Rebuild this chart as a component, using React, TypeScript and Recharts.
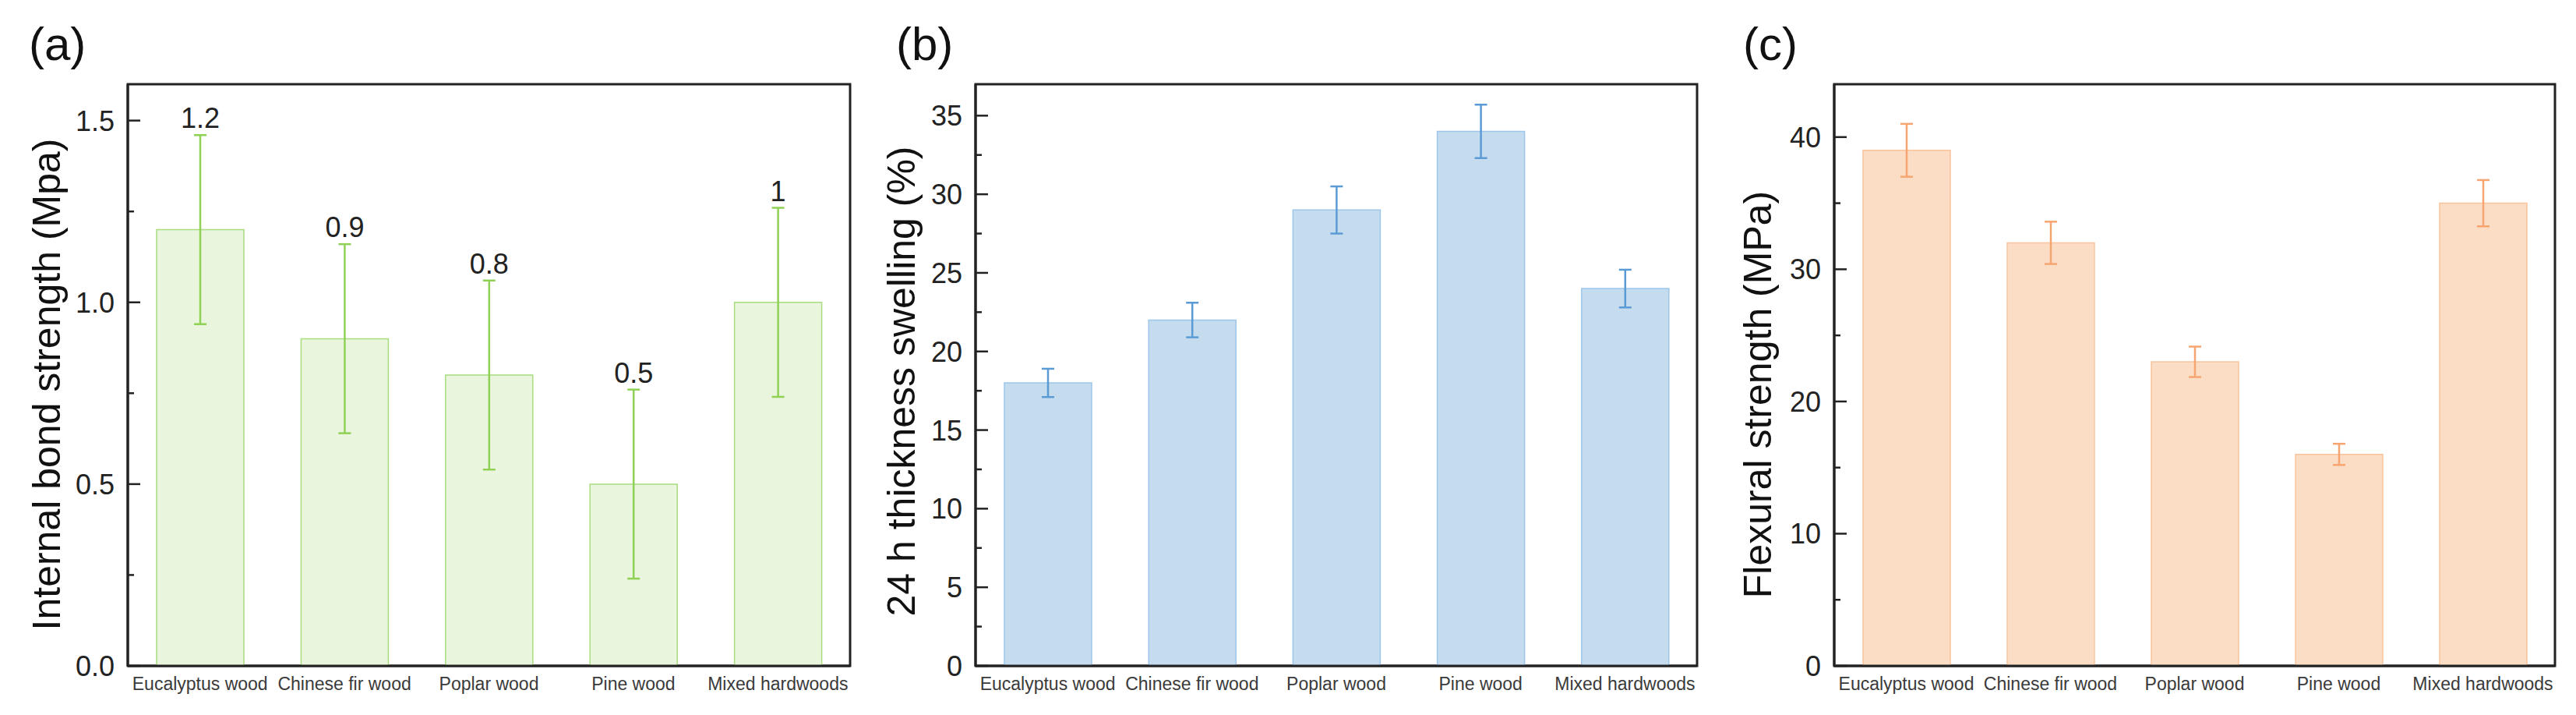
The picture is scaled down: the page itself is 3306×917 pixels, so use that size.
import React from 'react';
import { BarChart, Bar, XAxis, YAxis, ErrorBar, LabelList, ReferenceArea } from 'recharts';

const categories = ['Eucalyptus wood', 'Chinese fir wood', 'Poplar wood', 'Pine wood', 'Mixed hardwoods'];

// (a) internal bond strength
const bondValues = [1.2, 0.9, 0.8, 0.5, 1.0];
const bondErrors = [0.26, 0.26, 0.26, 0.26, 0.26];
const bondTicks = [0, 0.25, 0.5, 0.75, 1.0, 1.25, 1.5];
const bondMajor = [0, 0.5, 1.0, 1.5];

// (b) 24 h thickness swelling
const swellValues = [18, 22, 29, 34, 24];
const swellErrors = [0.9, 1.1, 1.5, 1.7, 1.2];
const swellTicks = [0, 2.5, 5, 7.5, 10, 12.5, 15, 17.5, 20, 22.5, 25, 27.5, 30, 32.5, 35];
const swellMajor = [0, 5, 10, 15, 20, 25, 30, 35];

// (c) flexural strength
const flexValues = [39, 32, 23, 16, 35];
const flexErrors = [2.0, 1.6, 1.15, 0.8, 1.75];
const flexTicks = [0, 5, 10, 15, 20, 25, 30, 35, 40];
const flexMajor = [0, 10, 20, 30, 40];

const FONT = "Arial, 'Liberation Sans', sans-serif";
const INK = '#222';

const makeRows = (values: number[], errors: number[]) =>
  categories.map((name, i) => ({ name, value: values[i], err: errors[i] }));

type PanelProps = {
  left: number;
  width: number;
  marginLeft: number;
  marginRight: number;
  values: number[];
  errors: number[];
  domain: [number, number];
  ticks: number[];
  major: number[];
  fmt: (v: number) => string;
  fill: string;
  stroke: string;
  errColor: string;
  showValues?: boolean;
};

function Panel(p: PanelProps) {
  const data = makeRows(p.values, p.errors);

  // inward ticks, labels only on the major ones
  const YTick = (props: any) => {
    const { y, payload } = props;
    const ax = typeof props.x2 === 'number' ? props.x2 : props.x;
    const isMajor = p.major.includes(payload.value);
    return (
      <g>
        <line x1={ax} x2={ax + (isMajor ? 16 : 8)} y1={y} y2={y} stroke={INK} strokeWidth={2.5} />
        {isMajor && (
          <text x={ax - 17} y={y} dy="0.36em" textAnchor="end" fontSize={36} fill={INK} fontFamily={FONT}>
            {p.fmt(payload.value)}
          </text>
        )}
      </g>
    );
  };

  const XTick = (props: any) => {
    const { x, y, payload } = props;
    return (
      <text x={x} y={y + 31} textAnchor="middle" fontSize={23} fill="#3a3a3a" fontFamily={FONT}>
        {payload.value}
      </text>
    );
  };

  // value label sits just above the top of the error bar
  const renderValue = (props: any) => {
    const { x, y, width, height, value, index } = props;
    const perUnit = height / value;
    const top = y - data[index].err * perUnit;
    return (
      <text x={x + width / 2} y={top - 9} textAnchor="middle" fontSize={36} fill={INK} fontFamily={FONT}>
        {String(value)}
      </text>
    );
  };

  return (
    <div style={{ position: 'absolute', left: p.left, top: 0 }}>
      <BarChart
        width={p.width}
        height={917}
        data={data}
        margin={{ top: 108, right: p.marginRight, bottom: 0, left: 0 }}
      >
        <XAxis
          dataKey="name"
          height={63}
          interval={0}
          tickLine={false}
          tickSize={0}
          tickMargin={0}
          axisLine={{ stroke: INK, strokeWidth: 3 }}
          tick={<XTick />}
        />
        <YAxis
          width={p.marginLeft}
          domain={p.domain}
          allowDataOverflow
          ticks={p.ticks}
          interval={0}
          tickLine={false}
          tickSize={0}
          tickMargin={0}
          axisLine={{ stroke: INK, strokeWidth: 3 }}
          tick={<YTick />}
        />
        <Bar dataKey="value" fill={p.fill} stroke={p.stroke} strokeWidth={1.5} barSize={112} isAnimationActive={false}>
          <ErrorBar dataKey="err" width={8} stroke={p.errColor} strokeWidth={2.5} />
          {p.showValues && <LabelList dataKey="value" content={renderValue} />}
        </Bar>
        <ReferenceArea y1={p.domain[0]} y2={p.domain[1]} fill="none" fillOpacity={0} stroke={INK} strokeWidth={3} />
      </BarChart>
    </div>
  );
}

export default function App() {
  return (
    <div style={{ position: 'absolute', left: 0, top: 0, width: 3306, height: 917, background: '#fff', fontFamily: FONT }}>
      <Panel
        left={0}
        width={1100}
        marginLeft={164}
        marginRight={9}
        values={bondValues}
        errors={bondErrors}
        domain={[0, 1.6]}
        ticks={bondTicks}
        major={bondMajor}
        fmt={(v) => v.toFixed(1)}
        fill="#E9F5DC"
        stroke="#A8DD80"
        errColor="#8FD155"
        showValues
      />
      <Panel
        left={1100}
        width={1100}
        marginLeft={152}
        marginRight={22}
        values={swellValues}
        errors={swellErrors}
        domain={[0, 37]}
        ticks={swellTicks}
        major={swellMajor}
        fmt={(v) => String(v)}
        fill="#C5DBEE"
        stroke="#9DC6EA"
        errColor="#5B9BD5"
      />
      <Panel
        left={2200}
        width={1106}
        marginLeft={154}
        marginRight={27}
        values={flexValues}
        errors={flexErrors}
        domain={[0, 44]}
        ticks={flexTicks}
        major={flexMajor}
        fmt={(v) => String(v)}
        fill="#FBDCC5"
        stroke="#F9C39C"
        errColor="#F7A570"
      />
      <svg width={3306} height={917} style={{ position: 'absolute', left: 0, top: 0, pointerEvents: 'none' }} fontFamily={FONT}>
        <text x={37} y={77} fontSize={60} fill="#111">(a)</text>
        <text x={1150} y={77} fontSize={60} fill="#111">(b)</text>
        <text x={2237} y={77} fontSize={60} fill="#111">(c)</text>
        <text x={77} y={493} transform="rotate(-90, 77, 493)" textAnchor="middle" fontSize={50} fill="#111">
          Internal bond strength (Mpa)
        </text>
        <text x={1174} y={489} transform="rotate(-90, 1174, 489)" textAnchor="middle" fontSize={50} fill="#111">
          24 h thickness swelling (%)
        </text>
        <text x={2273} y={506} transform="rotate(-90, 2273, 506)" textAnchor="middle" fontSize={50} fill="#111">
          Flexural strength (MPa)
        </text>
      </svg>
    </div>
  );
}
